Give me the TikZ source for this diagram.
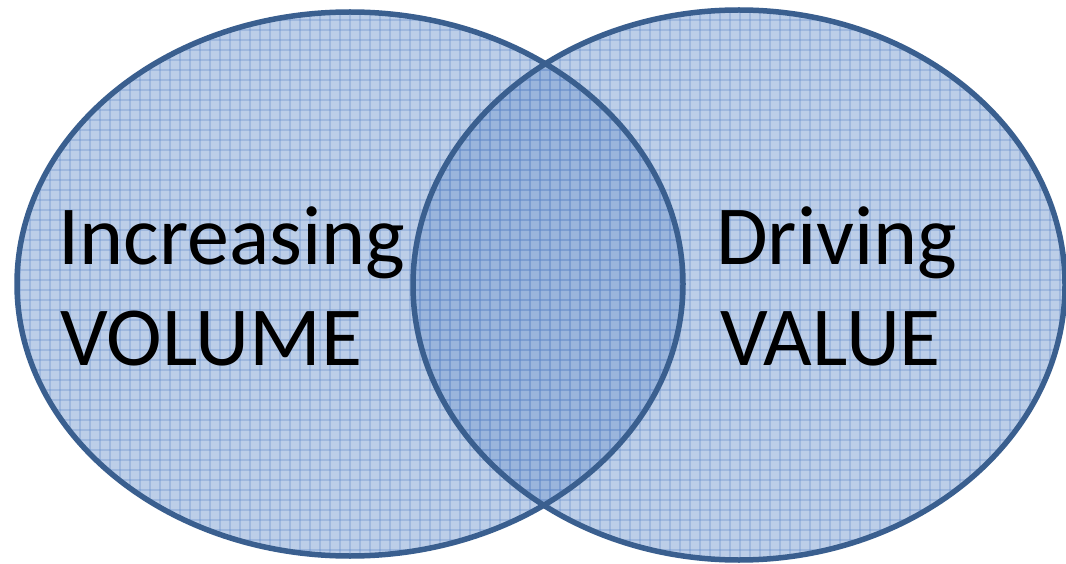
\documentclass[tikz,border=0pt]{standalone}
\usepackage{fontspec}
\setmainfont{Carlito}
\begin{document}
\begin{tikzpicture}[x=1pt,y=-1pt,
  vfill/.style={fill=vennblue,fill opacity=0.5},
  vgrid/.style={draw=gridblue,line width=1.5pt,opacity=0.3},
  vedge/.style={draw=edgeblue,line width=5.5pt},
  vlabel/.style={anchor=base west,inner sep=0pt,font=\fontsize{84}{100}\selectfont,text=black}]
\definecolor{vennblue}{RGB}{122,158,210}
\definecolor{gridblue}{RGB}{95,135,200}
\definecolor{edgeblue}{RGB}{58,95,143}
\useasboundingbox (0,0) rectangle (1066,564);
\fill[white] (0,0) rectangle (1066,564);
% fills
\path[vfill] (350,284) ellipse [x radius=333, y radius=272];
\path[vfill] (739,285) ellipse [x radius=326, y radius=275];
% grid texture
\begin{scope}
  \clip (350,284) ellipse [x radius=333, y radius=272];
  \foreach \g in {0,10,...,1070} {\draw[vgrid] (\g,0) -- (\g,570);}
  \foreach \g in {0,10,...,570} {\draw[vgrid] (0,\g) -- (1070,\g);}
\end{scope}
\begin{scope}
  \clip (739,285) ellipse [x radius=326, y radius=275];
  \foreach \g in {0,10,...,1070} {\draw[vgrid] (\g,0) -- (\g,570);}
  \foreach \g in {0,10,...,570} {\draw[vgrid] (0,\g) -- (1070,\g);}
\end{scope}
% edges
\draw[vedge] (350,284) ellipse [x radius=333, y radius=272];
\draw[vedge] (739,285) ellipse [x radius=326, y radius=275];
% labels
\node[vlabel] (inc) at (58,265) {Increasing};
\node[vlabel] (vol) at (60,365) {VOLUME};
\node[vlabel] (drv) at (716,265) {Driving};
\node[vlabel] (val) at (720,365) {VALUE};
\end{tikzpicture}
\end{document}
